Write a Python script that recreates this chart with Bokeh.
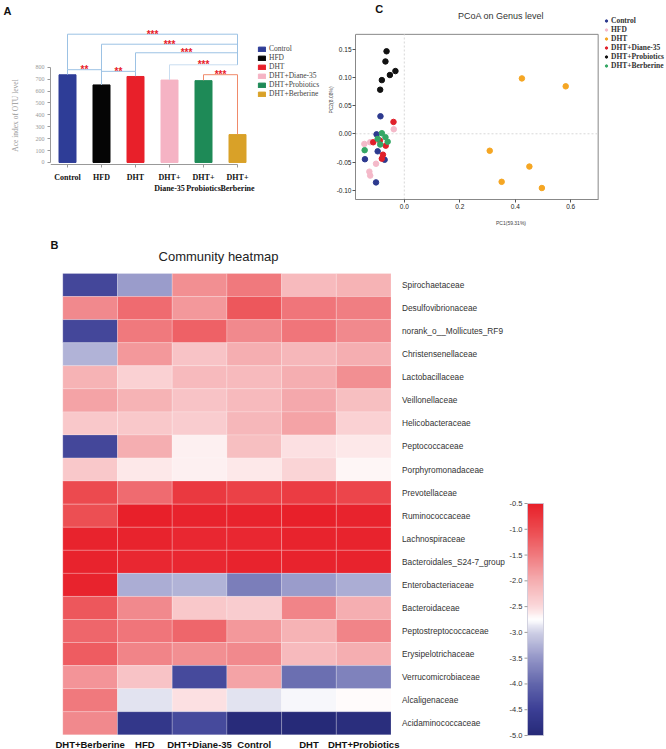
import numpy as np
from bokeh.plotting import figure
from bokeh.models import (ColumnDataSource, Legend, LegendItem, LinearColorMapper,
                          FixedTicker, PrintfTickFormatter, Range1d)
from bokeh.layouts import column, row
from bokeh.embed import file_html
from bokeh.resources import INLINE
from bokeh.core.properties import value

# ---------------- Panel A data ----------------
groups = ["Control", "HFD", "DHT", "DHT+Diane-35", "DHT+Probiotics", "DHT+Berberine"]
group_tick_labels = ["Control", "HFD", "DHT", "DHT+\nDiane-35", "DHT+\nProbiotics", "DHT+\nBerberine"]
ace_index = [736, 651, 722, 692, 687, 234]
bar_colors = ["#2e3d97", "#050505", "#e8202a", "#f5b3c4", "#1e8a57", "#d9a128"]
ace_ticks = [0, 100, 200, 300, 400, 500, 600, 700, 800]
ace_label = "Ace index of OTU level"

# significance brackets
br_left = [0, 1, 2, 3, 4, 0, 1]
br_right = [5, 5, 5, 5, 5, 1, 2]
br_height = [1077, 993, 921, 820, 737, 779, 765]
br_left_end = [779, 651, 765, 692, 690, 738, 651]
br_right_end = [820, 820, 820, 820, 236, 651, 724]
br_label = ["***", "***", "***", "***", "***", "**", "**"]
br_color = ["#9cc2e4", "#9cc2e4", "#9cc2e4", "#c9ddf0", "#f08a6a", "#9cc2e4", "#9cc2e4"]

# ---------------- Panel C data ----------------
pcoa_groups = ["Control", "HFD", "DHT", "DHT+Diane-35", "DHT+Probiotics", "DHT+Berberine"]
pcoa_colors = ["#2d3a8f", "#f4b9c9", "#f5a623", "#e0202a", "#111111", "#35a765"]
control_x = [-0.086, -0.100, -0.096, -0.142, -0.071, -0.102]
control_y = [0.031, -0.001, -0.031, -0.045, -0.046, -0.086]
hfd_x = [-0.038, -0.144, -0.123, -0.102, -0.126, -0.123]
hfd_y = [0.008, -0.018, -0.015, -0.053, -0.067, -0.074]
dht_x = [0.424, 0.582, 0.308, 0.451, 0.351, 0.496]
dht_y = [0.098, 0.084, -0.030, -0.058, -0.085, -0.096]
diane_x = [-0.039, -0.112, -0.088, -0.067, -0.077, -0.081]
diane_y = [0.021, -0.015, -0.012, -0.021, -0.037, -0.044]
probio_x = [-0.064, -0.068, -0.052, -0.032, -0.081, -0.087]
probio_y = [0.146, 0.128, 0.104, 0.111, 0.095, 0.078]
berb_x = [-0.081, -0.096, -0.068, -0.060, -0.087, -0.143]
berb_y = [0.001, -0.009, -0.006, -0.014, -0.019, -0.029]
pc1_ticks = [0.0, 0.2, 0.4, 0.6]
pc2_ticks = [-0.10, -0.05, 0.0, 0.05, 0.10, 0.15]
pc1_lim = (-0.176, 0.699)
pc2_lim = (-0.1163, 0.176)

# ---------------- Panel B data ----------------
families = ["Spirochaetaceae", "Desulfovibrionaceae", "norank_o__Mollicutes_RF9",
            "Christensenellaceae", "Lactobacillaceae", "Veillonellaceae", "Helicobacteraceae",
            "Peptococcaceae", "Porphyromonadaceae", "Prevotellaceae", "Ruminococcaceae",
            "Lachnospiraceae", "Bacteroidales_S24-7_group", "Enterobacteriaceae",
            "Bacteroidaceae", "Peptostreptococcaceae", "Erysipelotrichaceae",
            "Verrucomicrobiaceae", "Alcaligenaceae", "Acidaminococcaceae"]
heat_groups = ["DHT+Berberine", "HFD", "DHT+Diane-35", "Control", "DHT", "DHT+Probiotics"]
berberine_vals = [-4.4, -1.65, -4.4, -3.25, -2.05, -1.9, -2.3, -4.4, -2.3, -1.0,
                  -1.05, -0.55, -0.55, -0.55, -1.15, -1.3, -1.2, -1.75, -1.5, -1.65]
hfd_vals = [-3.45, -1.35, -1.5, -1.8, -2.4, -2.05, -2.3, -2.0, -2.6, -1.35,
            -0.5, -0.55, -0.6, -3.3, -1.65, -1.45, -1.6, -2.25, -2.9, -4.7]
diane_vals = [-1.7, -1.8, -1.25, -2.25, -2.15, -2.25, -2.35, -2.65, -2.65, -0.8,
              -0.55, -0.6, -0.6, -3.25, -2.3, -1.3, -1.7, -4.35, -2.55, -4.35]
control_vals = [-1.5, -1.15, -1.65, -2.0, -2.15, -2.15, -2.1, -2.2, -2.6, -0.9,
                -0.55, -0.6, -0.55, -3.75, -2.35, -1.8, -1.65, -1.9, -2.9, -4.95]
dht_vals = [-2.15, -1.45, -1.45, -2.1, -2.0, -1.95, -1.9, -2.55, -2.45, -0.85,
            -0.5, -0.55, -0.55, -3.45, -1.6, -2.05, -2.15, -3.9, -2.8, -5.0]
probio_vals = [-2.05, -1.55, -1.65, -2.0, -1.7, -2.2, -2.4, -2.6, -2.68, -0.95,
               -0.55, -0.55, -0.55, -3.3, -2.0, -1.6, -2.0, -3.7, -2.72, -4.9]
cbar_ticks = [-5.0, -4.5, -4.0, -3.5, -3.0, -2.5, -2.0, -1.5, -1.0, -0.5]
cmap_vals = [-5.0, -4.5, -4.0, -3.5, -3.0, -2.75, -2.5, -2.0, -1.5, -1.0, -0.5]
cmap_cols = ["#262a78", "#3c3f96", "#6266ac", "#9496c8", "#cfd0e6", "#ffffff",
             "#fbd9db", "#f5aeb1", "#f07a7e", "#ec4a4f", "#e8202a"]


def hex2rgb(h):
    h = h.lstrip("#")
    return np.array([int(h[i:i + 2], 16) for i in (0, 2, 4)], dtype=float)


anchor_rgb = np.array([hex2rgb(c) for c in cmap_cols])
palette = []
for t in np.linspace(cmap_vals[0], cmap_vals[-1], 256):
    r = np.interp(t, cmap_vals, anchor_rgb[:, 0])
    g = np.interp(t, cmap_vals, anchor_rgb[:, 1])
    b = np.interp(t, cmap_vals, anchor_rgb[:, 2])
    palette.append("#%02x%02x%02x" % (int(round(r)), int(round(g)), int(round(b))))
mapper = LinearColorMapper(palette=palette, low=-5.0, high=-0.5)

SERIF = "Liberation Serif"
SANS = "Liberation Sans"
ROW1_H = 228
BOTTOM1 = 29
A_STRIP = 24
A_W = 300
C_W = 666 - A_STRIP - A_W


def base_fig(**kw):
    p = figure(output_backend="svg", toolbar_location=None, **kw)
    p.grid.visible = False
    p.outline_line_color = None
    return p


# =============== strip with letter "A" and y-axis title ===============
pAL = base_fig(width=A_STRIP, height=ROW1_H, x_range=Range1d(0, A_STRIP),
               y_range=Range1d(ROW1_H - BOTTOM1, 0),
               min_border_left=0, min_border_right=0, min_border_top=0, min_border_bottom=BOTTOM1)
pAL.axis.visible = False
pAL.text(x=[3], y=[10], text=["A"], text_font=value(SANS), text_font_style="bold",
         text_font_size="11px", text_baseline="middle", text_align="left", text_color="#111111")
pAL.text(x=[15], y=[115], text=[ace_label], angle=np.pi / 2, text_font=value(SERIF),
         text_font_size="7.5px", text_color="#999999", text_baseline="middle", text_align="center")

# =============== Panel A: bar chart ===============
pA = base_fig(width=A_W, height=ROW1_H, x_range=Range1d(-0.5, -0.5 + (A_W - 26) / 34),
              y_range=Range1d(-311, 1360),
              min_border_left=26, min_border_right=0, min_border_top=0, min_border_bottom=BOTTOM1)
srcA = ColumnDataSource(dict(x=list(range(len(groups))), top=ace_index, color=bar_colors, name=groups))
bars = pA.vbar(x="x", top="top", width=0.5, color="color", source=srcA)

xs, ys = [], []
for l, r, h, le, re in zip(br_left, br_right, br_height, br_left_end, br_right_end):
    xs.append([l, l, r, r])
    ys.append([le, h, h, re])
pA.multi_line(xs=xs, ys=ys, line_color=br_color, line_width=1)
star_src = ColumnDataSource(dict(x=[(l + r) / 2 for l, r in zip(br_left, br_right)],
                                 y=br_height, t=br_label))
pA.text(x="x", y="y", text="t", source=star_src, text_color="#e8202a",
        text_font=value(SANS), text_font_size="10px", text_font_style="bold",
        text_align="center", text_baseline="middle")

pA.yaxis.ticker = FixedTicker(ticks=ace_ticks)
pA.yaxis.bounds = (0, 800)
pA.yaxis.major_label_text_font = SERIF
pA.yaxis.major_label_text_font_size = "6px"
pA.yaxis.major_label_text_color = "#999999"
pA.yaxis.major_label_standoff = 3
pA.yaxis.axis_line_color = "#999999"
pA.yaxis.major_tick_line_color = "#999999"
pA.yaxis.major_tick_out = 3
pA.yaxis.major_tick_in = 0
pA.yaxis.minor_tick_line_color = None

pA.xaxis.fixed_location = -17
pA.xaxis.ticker = FixedTicker(ticks=list(range(len(groups))))
pA.xaxis.major_label_overrides = {i: s for i, s in enumerate(group_tick_labels)}
pA.xaxis.bounds = (-0.5, 5)
pA.xaxis.major_label_text_font = SERIF
pA.xaxis.major_label_text_font_style = "bold"
pA.xaxis.major_label_text_font_size = "8px"
pA.xaxis.major_label_text_color = "#111111"
pA.xaxis.major_label_standoff = 6
pA.xaxis.axis_line_color = "#999999"
pA.xaxis.major_tick_line_color = "#999999"
pA.xaxis.major_tick_out = 3
pA.xaxis.major_tick_in = 0
pA.xaxis.minor_tick_line_color = None

legA = Legend(items=[LegendItem(label=g, renderers=[bars], index=i) for i, g in enumerate(groups)],
              location=(207, 101), label_text_font=SERIF, label_text_font_size="7.5px",
              label_height=8, glyph_height=6, glyph_width=9, label_standoff=3,
              spacing=0, padding=0, margin=0, border_line_color=None,
              background_fill_alpha=0)
pA.add_layout(legA)

# =============== Panel C: PCoA ===============
C_LEFT = 352 - (A_STRIP + A_W)
pC = base_fig(width=C_W, height=ROW1_H,
              x_range=Range1d(pc1_lim[0], pc1_lim[0] + (C_W - C_LEFT) / 280),
              y_range=Range1d(-0.1163, 0.2359),
              min_border_left=C_LEFT, min_border_right=0, min_border_top=0, min_border_bottom=BOTTOM1)
pC.quad(left=[pc1_lim[0]], right=[pc1_lim[1]], bottom=[pc2_lim[0]], top=[pc2_lim[1]],
        fill_color=None, line_color="#888888", line_width=1)
pC.segment(x0=[0, pc1_lim[0]], y0=[pc2_lim[0], 0], x1=[0, pc1_lim[1]], y1=[pc2_lim[1], 0],
           line_color="#d8d8d8", line_dash="2 2", line_width=1)
pc_x = [control_x, hfd_x, dht_x, diane_x, probio_x, berb_x]
pc_y = [control_y, hfd_y, dht_y, diane_y, probio_y, berb_y]
itemsC = []
for g, c, xv, yv in zip(pcoa_groups, pcoa_colors, pc_x, pc_y):
    r = pC.scatter(xv, yv, size=5.5, color=c, marker="circle")
    itemsC.append(LegendItem(label=g, renderers=[r]))
legC = Legend(items=itemsC, location=(248, 129), label_text_font=SERIF,
              label_text_font_style="bold", label_text_font_size="7.5px", label_text_color="#333333",
              label_height=9, glyph_height=9, glyph_width=6, label_standoff=2,
              spacing=0, padding=0, margin=0, border_line_color=None, background_fill_alpha=0)
pC.add_layout(legC)
for ax, ticks, fmt, bnd in ((pC.xaxis, pc1_ticks, "%.1f", pc1_lim), (pC.yaxis, pc2_ticks, "%.2f", pc2_lim)):
    ax.ticker = FixedTicker(ticks=ticks)
    ax.formatter = PrintfTickFormatter(format=fmt)
    ax.bounds = bnd
    ax.major_label_text_font = SANS
    ax.major_label_text_font_size = "6.5px"
    ax.major_label_text_color = "#222222"
    ax.major_label_standoff = 1
    ax.axis_line_color = "#888888"
    ax.major_tick_line_color = "#555555"
    ax.major_tick_out = 3
    ax.major_tick_in = 0
    ax.minor_tick_line_color = None
    ax.axis_label_text_font = SANS
    ax.axis_label_text_font_style = "normal"
    ax.axis_label_text_font_size = "5px"
    ax.axis_label_text_color = "#444444"
pC.xaxis.axis_label = "PC1(59.31%)"
pC.xaxis.axis_label_standoff = 8
pC.yaxis.axis_label = "PC2(8.08%)"
pC.yaxis.axis_label_standoff = 0
pC.text(x=[-0.105], y=[0.2215], text=["C"], text_font=value(SANS), text_font_style="bold",
        text_font_size="11px", text_baseline="middle", text_align="left", text_color="#111111")
pC.text(x=[0.349], y=[0.208], text=["PCoA on Genus level"], text_font=value(SANS),
        text_font_size="9px", text_color="#333333", text_baseline="middle", text_align="center")

# =============== Panel B: heatmap + colour bar (one frame) ===============
ROW_H = 23.065
COL_W = 54.7
B_H = 749 - ROW1_H
HEAT_BOTTOM = 734.3 - ROW1_H        # heatmap bottom, px from top of panel B
n_rows = len(families)
vals_by_group = [berberine_vals, hfd_vals, diane_vals, control_vals, dht_vals, probio_vals]
hx, hy, hv = [], [], []
for i, vals in enumerate(vals_by_group):
    for j, v in enumerate(vals):
        hx.append(i + 0.5)
        hy.append(n_rows - j - 0.5)
        hv.append(v)
srcB = ColumnDataSource(dict(x=hx, y=hy, v=hv))
pB = base_fig(width=666, height=B_H, x_range=Range1d(-62.3 / COL_W, (666 - 62.3) / COL_W),
              y_range=Range1d(-(B_H - HEAT_BOTTOM) / ROW_H, HEAT_BOTTOM / ROW_H),
              min_border_left=0, min_border_right=0, min_border_top=0, min_border_bottom=0)
pB.axis.visible = False
pB.rect(x="x", y="y", width=1, height=1, source=srcB,
        fill_color={"field": "v", "transform": mapper},
        line_color="white", line_alpha=0.35, line_width=0.6)
# row labels
pB.text(x=[len(heat_groups) + 11 / COL_W] * n_rows, y=[n_rows - j - 0.5 for j in range(n_rows)],
        text=families, text_font=value(SANS), text_font_size="8.3px", text_color="#333333",
        text_baseline="middle", text_align="left")
# column labels
pB.text(x=[i + 0.5 for i in range(len(heat_groups))], y=[-10 / ROW_H] * len(heat_groups),
        text=heat_groups, text_font=value(SANS), text_font_style="bold", text_font_size="9.5px",
        text_color="#111111", text_baseline="middle", text_align="center")
# colour bar
cb_x0 = (527 - 62.3) / COL_W
cb_w = 16 / COL_W
cb_bot = -0.7 / ROW_H
cb_top = (734.3 - 503) / ROW_H


def cb_y(v):
    return cb_bot + (v - cmap_vals[0]) / (cmap_vals[-1] - cmap_vals[0]) * (cb_top - cb_bot)


pB.image(image=[np.linspace(cmap_vals[0], cmap_vals[-1], 256).reshape(-1, 1)], x=cb_x0, y=cb_bot,
         dw=cb_w, dh=cb_top - cb_bot, color_mapper=mapper)
pB.quad(left=[cb_x0], right=[cb_x0 + cb_w], bottom=[cb_bot], top=[cb_top], fill_color=None,
        line_color="#c8c8d8", line_width=0.8)
tick_len = 3 / COL_W
pB.segment(x0=[cb_x0 - tick_len] * len(cbar_ticks), x1=[cb_x0] * len(cbar_ticks),
           y0=[cb_y(v) for v in cbar_ticks], y1=[cb_y(v) for v in cbar_ticks],
           line_color="#999999", line_width=1)
pB.text(x=[cb_x0 - tick_len - 2 / COL_W] * len(cbar_ticks), y=[cb_y(v) for v in cbar_ticks],
        text=["%.1f" % v for v in cbar_ticks], text_font=value(SANS), text_font_size="7.5px",
        text_color="#333333", text_baseline="middle", text_align="right")
pB.text(x=[-12.3 / COL_W], y=[(734.3 - 244) / ROW_H], text=["B"], text_font=value(SANS),
        text_font_style="bold", text_font_size="11px", text_baseline="middle", text_align="left",
        text_color="#111111")
pB.text(x=[155.7 / COL_W], y=[(734.3 - 256) / ROW_H], text=["Community heatmap"],
        text_font=value(SANS), text_font_size="13px", text_color="#222222",
        text_baseline="middle", text_align="center")

layout = column(row(pAL, pA, pC), pB)
open("out.html", "w").write(file_html(layout, INLINE))
